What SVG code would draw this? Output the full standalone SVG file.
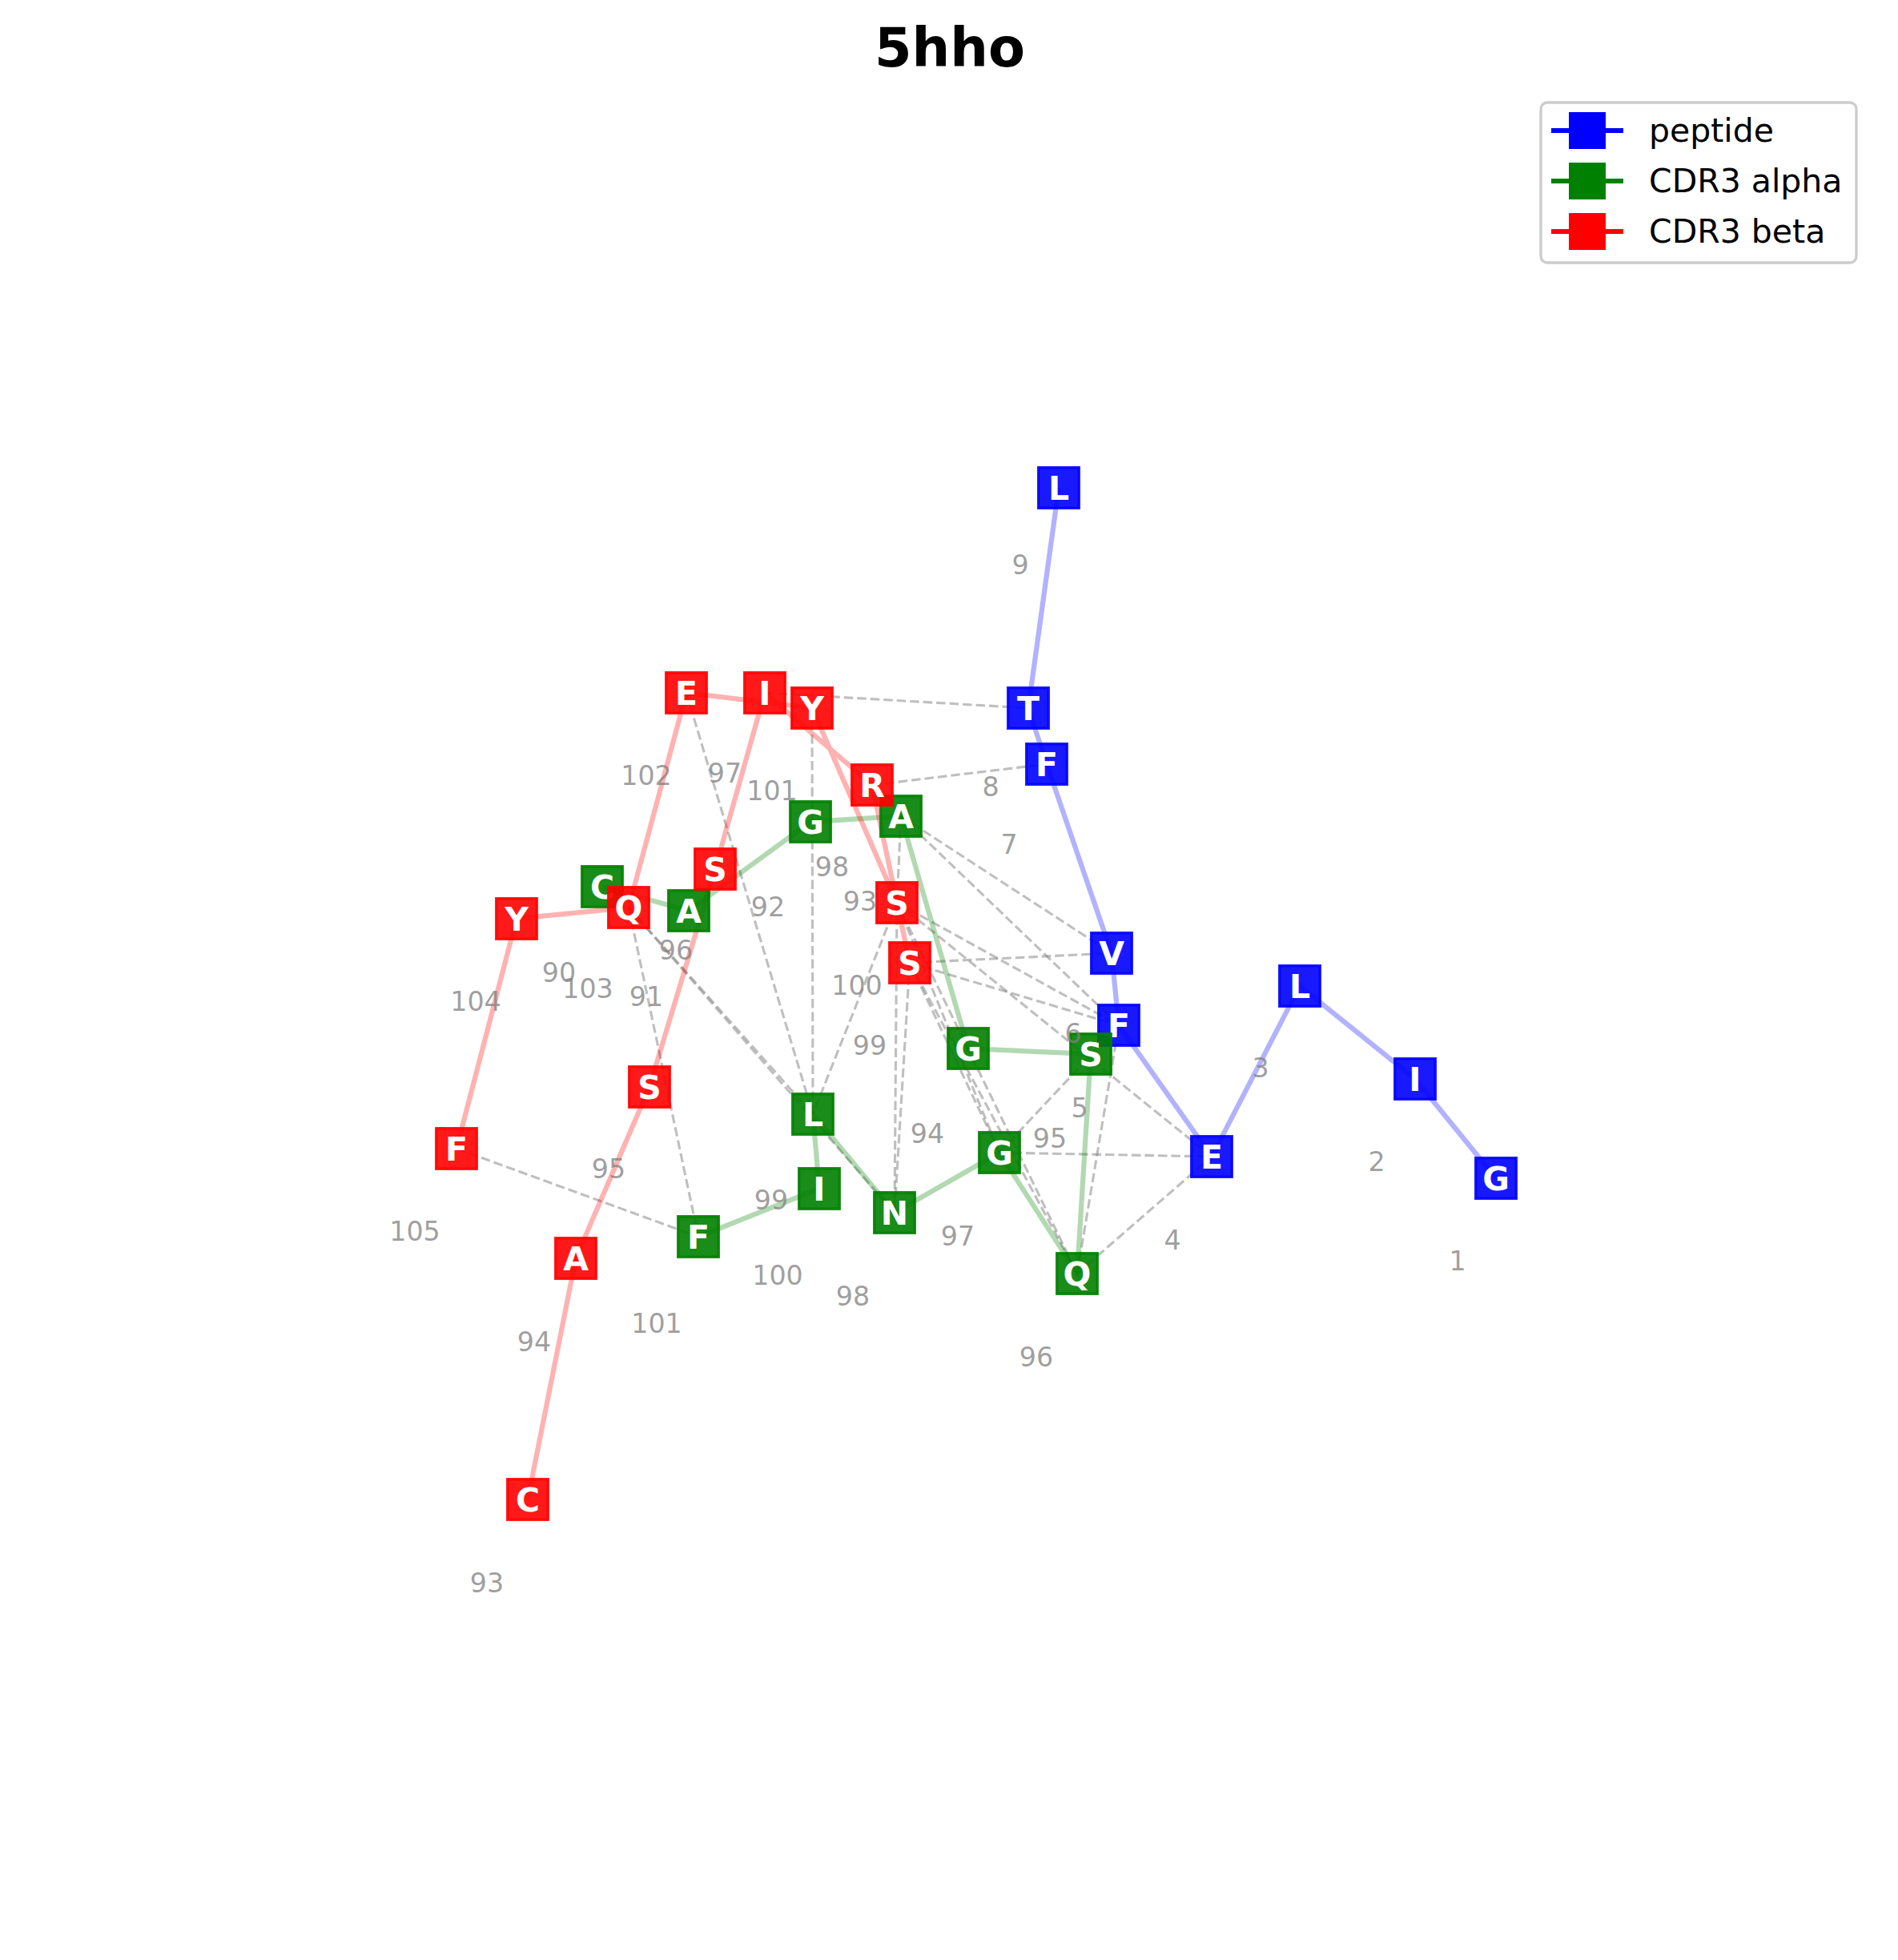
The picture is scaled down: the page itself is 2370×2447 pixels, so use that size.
<svg xmlns="http://www.w3.org/2000/svg" width="2370" height="2447" viewBox="0 0 2370 2447">
<style>
.bg{fill:#ffffff}
.title{font-family:"DejaVu Sans",sans-serif;font-weight:bold;font-size:67px;fill:#000;text-anchor:middle}
.chain{fill:none;stroke-width:6.25;stroke-opacity:0.3;stroke-linecap:butt}
.pep{stroke:#0000ff}
.alpha{stroke:#008000}
.beta{stroke:#ff0000}
.contact{fill:none;stroke:#808080;stroke-opacity:0.5;stroke-width:3.1;stroke-dasharray:11.5 5}
.box{stroke-width:3.3;fill-opacity:0.9;stroke-opacity:0.9}
.bp{fill:#0000ff;stroke:#0000ff}
.ba{fill:#008000;stroke:#008000}
.bb{fill:#ff0000;stroke:#ff0000}
.nt{font-family:"DejaVu Sans",sans-serif;font-weight:bold;font-size:41px;fill:#ffffff;text-anchor:middle}
.num{font-family:"DejaVu Sans",sans-serif;font-size:33.3px;fill:#808080;fill-opacity:0.75;text-anchor:middle}
.leg{font-family:"DejaVu Sans",sans-serif;font-size:41px;fill:#000}
</style>
<rect class="bg" x="0" y="0" width="2370" height="2447"/>
<text class="title" x="1186" y="83">5hho</text>

<g id="connectors">
  <g id="contacts">
    <line class="contact" x1="955" y1="865" x2="1284" y2="884"/>
    <line class="contact" x1="1089" y1="980" x2="1307" y2="954"/>
    <line class="contact" x1="1014" y1="884" x2="1015" y2="1391"/>
    <line class="contact" x1="857" y1="865" x2="1015" y2="1391"/>
    <line class="contact" x1="785" y1="1133" x2="1015" y2="1391"/>
    <line class="contact" x1="785" y1="1133" x2="1117" y2="1514"/>
    <line class="contact" x1="785" y1="1133" x2="872" y2="1544"/>
    <line class="contact" x1="570" y1="1434" x2="872" y2="1544"/>
    <line class="contact" x1="1120" y1="1127" x2="1015" y2="1391"/>
    <line class="contact" x1="1125" y1="1019" x2="1388" y2="1190"/>
    <line class="contact" x1="1125" y1="1019" x2="1397" y2="1280"/>
    <line class="contact" x1="1125" y1="1019" x2="1120" y2="1127"/>
    <line class="contact" x1="1120" y1="1127" x2="1117" y2="1514"/>
    <line class="contact" x1="1136" y1="1202" x2="1117" y2="1514"/>
    <line class="contact" x1="1136" y1="1202" x2="1388" y2="1190"/>
    <line class="contact" x1="1136" y1="1202" x2="1397" y2="1280"/>
    <line class="contact" x1="1120" y1="1127" x2="1397" y2="1280"/>
    <line class="contact" x1="1120" y1="1127" x2="1513" y2="1444"/>
    <line class="contact" x1="1120" y1="1127" x2="1248" y2="1439"/>
    <line class="contact" x1="1136" y1="1202" x2="1248" y2="1439"/>
    <line class="contact" x1="1120" y1="1127" x2="1345" y2="1590"/>
    <line class="contact" x1="1136" y1="1202" x2="1345" y2="1590"/>
    <line class="contact" x1="1248" y1="1439" x2="1397" y2="1280"/>
    <line class="contact" x1="1248" y1="1439" x2="1513" y2="1444"/>
    <line class="contact" x1="1345" y1="1590" x2="1513" y2="1444"/>
    <line class="contact" x1="1345" y1="1590" x2="1397" y2="1280"/>
  </g>
  <g id="peptide-chain">
    <polyline class="chain pep" points="1868,1471 1767,1347 1623,1231 1513,1444 1397,1280 1388,1190 1307,954 1284,884 1322,609"/>
  </g>
  <g id="alpha-chain">
    <polyline class="chain alpha" points="752,1107 860,1137 1012,1026 1125,1019 1209,1309 1362,1316 1345,1590 1248,1439 1117,1514 1015,1391 1023,1484 872,1544"/>
  </g>
  <g id="beta-chain">
    <polyline class="chain beta" points="659,1872 719,1571 811,1357 893,1085 955,865 1089,980 1136,1202 1120,1127 1014,884 857,865 785,1133 645,1147 570,1434"/>
  </g>
</g>

<g id="peptide">
  <g id="p1"><rect class="box bp" x="1842.7" y="1445.7" width="50.6" height="50.6"/><text class="nt" x="1868" y="1486">G</text></g>
  <g id="p2"><rect class="box bp" x="1741.7" y="1321.7" width="50.6" height="50.6"/><text class="nt" x="1767" y="1362">I</text></g>
  <g id="p3"><rect class="box bp" x="1597.7" y="1205.7" width="50.6" height="50.6"/><text class="nt" x="1623" y="1246">L</text></g>
  <g id="p4"><rect class="box bp" x="1487.7" y="1418.7" width="50.6" height="50.6"/><text class="nt" x="1513" y="1459">E</text></g>
  <g id="p5"><rect class="box bp" x="1371.7" y="1254.7" width="50.6" height="50.6"/><text class="nt" x="1397" y="1295">F</text></g>
  <g id="p6"><rect class="box bp" x="1362.7" y="1164.7" width="50.6" height="50.6"/><text class="nt" x="1388" y="1205">V</text></g>
  <g id="p7"><rect class="box bp" x="1281.7" y="928.7" width="50.6" height="50.6"/><text class="nt" x="1307" y="969">F</text></g>
  <g id="p8"><rect class="box bp" x="1258.7" y="858.7" width="50.6" height="50.6"/><text class="nt" x="1284" y="899">T</text></g>
  <g id="p9"><rect class="box bp" x="1296.7" y="583.7" width="50.6" height="50.6"/><text class="nt" x="1322" y="624">L</text></g>
</g>

<g id="alpha">
  <g id="a90"><rect class="box ba" x="726.7" y="1081.7" width="50.6" height="50.6"/><text class="nt" x="752" y="1122">C</text></g>
  <g id="a91"><rect class="box ba" x="834.7" y="1111.7" width="50.6" height="50.6"/><text class="nt" x="860" y="1152">A</text></g>
  <g id="a92"><rect class="box ba" x="986.7" y="1000.7" width="50.6" height="50.6"/><text class="nt" x="1012" y="1041">G</text></g>
  <g id="a93"><rect class="box ba" x="1099.7" y="993.7" width="50.6" height="50.6"/><text class="nt" x="1125" y="1034">A</text></g>
  <g id="a94"><rect class="box ba" x="1183.7" y="1283.7" width="50.6" height="50.6"/><text class="nt" x="1209" y="1324">G</text></g>
  <g id="a95"><rect class="box ba" x="1336.7" y="1290.7" width="50.6" height="50.6"/><text class="nt" x="1362" y="1331">S</text></g>
  <g id="a96"><rect class="box ba" x="1319.7" y="1564.7" width="50.6" height="50.6"/><text class="nt" x="1345" y="1605">Q</text></g>
  <g id="a97"><rect class="box ba" x="1222.7" y="1413.7" width="50.6" height="50.6"/><text class="nt" x="1248" y="1454">G</text></g>
  <g id="a98"><rect class="box ba" x="1091.7" y="1488.7" width="50.6" height="50.6"/><text class="nt" x="1117" y="1529">N</text></g>
  <g id="a99"><rect class="box ba" x="989.7" y="1365.7" width="50.6" height="50.6"/><text class="nt" x="1015" y="1406">L</text></g>
  <g id="a100"><rect class="box ba" x="997.7" y="1458.7" width="50.6" height="50.6"/><text class="nt" x="1023" y="1499">I</text></g>
  <g id="a101"><rect class="box ba" x="846.7" y="1518.7" width="50.6" height="50.6"/><text class="nt" x="872" y="1559">F</text></g>
</g>

<g id="beta">
  <g id="b93"><rect class="box bb" x="633.7" y="1846.7" width="50.6" height="50.6"/><text class="nt" x="659" y="1887">C</text></g>
  <g id="b94"><rect class="box bb" x="693.7" y="1545.7" width="50.6" height="50.6"/><text class="nt" x="719" y="1586">A</text></g>
  <g id="b95"><rect class="box bb" x="785.7" y="1331.7" width="50.6" height="50.6"/><text class="nt" x="811" y="1372">S</text></g>
  <g id="b96"><rect class="box bb" x="867.7" y="1059.7" width="50.6" height="50.6"/><text class="nt" x="893" y="1100">S</text></g>
  <g id="b97"><rect class="box bb" x="929.7" y="839.7" width="50.6" height="50.6"/><text class="nt" x="955" y="880">I</text></g>
  <g id="b98"><rect class="box bb" x="1063.7" y="954.7" width="50.6" height="50.6"/><text class="nt" x="1089" y="995">R</text></g>
  <g id="b99"><rect class="box bb" x="1110.7" y="1176.7" width="50.6" height="50.6"/><text class="nt" x="1136" y="1217">S</text></g>
  <g id="b100"><rect class="box bb" x="1094.7" y="1101.7" width="50.6" height="50.6"/><text class="nt" x="1120" y="1142">S</text></g>
  <g id="b101"><rect class="box bb" x="988.7" y="858.7" width="50.6" height="50.6"/><text class="nt" x="1014" y="899">Y</text></g>
  <g id="b102"><rect class="box bb" x="831.7" y="839.7" width="50.6" height="50.6"/><text class="nt" x="857" y="880">E</text></g>
  <g id="b103"><rect class="box bb" x="759.7" y="1107.7" width="50.6" height="50.6"/><text class="nt" x="785" y="1148">Q</text></g>
  <g id="b104"><rect class="box bb" x="619.7" y="1121.7" width="50.6" height="50.6"/><text class="nt" x="645" y="1162">Y</text></g>
  <g id="b105"><rect class="box bb" x="544.7" y="1408.7" width="50.6" height="50.6"/><text class="nt" x="570" y="1449">F</text></g>
</g>

<g id="numbers">
  <text class="num" x="1820" y="1586">1</text>
  <text class="num" x="1719" y="1462">2</text>
  <text class="num" x="1574" y="1345">3</text>
  <text class="num" x="1464" y="1560">4</text>
  <text class="num" x="1348" y="1395">5</text>
  <text class="num" x="1340" y="1302">6</text>
  <text class="num" x="1260" y="1066">7</text>
  <text class="num" x="1237" y="994">8</text>
  <text class="num" x="1274" y="717">9</text>
  <text class="num" x="698" y="1226">90</text>
  <text class="num" x="807" y="1256">91</text>
  <text class="num" x="959" y="1144">92</text>
  <text class="num" x="1074" y="1137">93</text>
  <text class="num" x="1158" y="1427">94</text>
  <text class="num" x="1311" y="1433">95</text>
  <text class="num" x="1294" y="1706">96</text>
  <text class="num" x="1196" y="1555">97</text>
  <text class="num" x="1065" y="1630">98</text>
  <text class="num" x="963" y="1510">99</text>
  <text class="num" x="971" y="1604">100</text>
  <text class="num" x="820" y="1664">101</text>
  <text class="num" x="608" y="1988">93</text>
  <text class="num" x="667" y="1687">94</text>
  <text class="num" x="760" y="1471">95</text>
  <text class="num" x="844" y="1198">96</text>
  <text class="num" x="905" y="977">97</text>
  <text class="num" x="1039" y="1094">98</text>
  <text class="num" x="1086" y="1317">99</text>
  <text class="num" x="1070" y="1242">100</text>
  <text class="num" x="964" y="999">101</text>
  <text class="num" x="807" y="980">102</text>
  <text class="num" x="734" y="1246">103</text>
  <text class="num" x="594" y="1262">104</text>
  <text class="num" x="518" y="1549">105</text>
</g>

<g id="legend">
  <rect x="1924" y="128" width="394" height="200" rx="8" ry="8" fill="#ffffff" fill-opacity="0.8" stroke="#cccccc" stroke-width="3.3"/>
  <line x1="1937" y1="163" x2="2027" y2="163" stroke="#0000ff" stroke-width="6"/>
  <rect x="1959" y="140" width="46" height="46" fill="#0000ff"/>
  <text class="leg" x="2059" y="177">peptide</text>
  <line x1="1937" y1="226" x2="2027" y2="226" stroke="#008000" stroke-width="6"/>
  <rect x="1959" y="203" width="46" height="46" fill="#008000"/>
  <text class="leg" x="2059" y="240">CDR3 alpha</text>
  <line x1="1937" y1="289" x2="2027" y2="289" stroke="#ff0000" stroke-width="6"/>
  <rect x="1959" y="266" width="46" height="46" fill="#ff0000"/>
  <text class="leg" x="2059" y="303">CDR3 beta</text>
</g>
</svg>
